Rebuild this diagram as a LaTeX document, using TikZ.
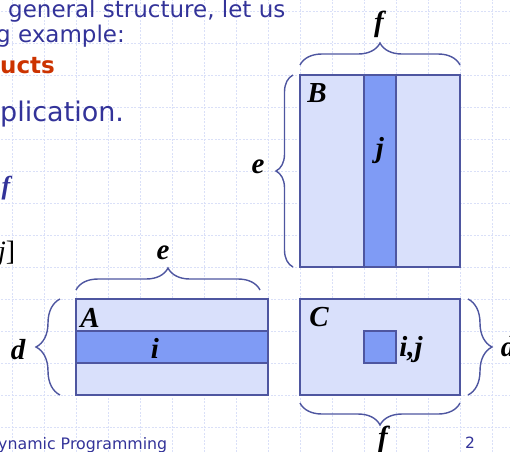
\documentclass[tikz,border=0pt]{standalone}
\usepackage{fontspec}
\setmainfont{Liberation Serif}
\newfontfamily\slidefont{DejaVu Sans}
\usetikzlibrary{decorations.pathreplacing}

\definecolor{slideblue}{RGB}{51,51,153}
\definecolor{slidered}{RGB}{204,51,0}
\definecolor{matfill}{RGB}{217,224,251}
\definecolor{matdark}{RGB}{127,155,245}
\definecolor{matline}{RGB}{78,86,160}
\definecolor{gridblue}{RGB}{218,224,248}

\tikzset{
  gridline/.style={draw=gridblue, line width=0.9pt, dash pattern=on 2pt off 1.5pt},
  matbox/.style={draw=matline, line width=1.4pt, fill=matfill},
  band/.style={draw=matline, line width=1.4pt, fill=matdark},
  curly/.style={draw=matline, line width=1.4pt, decorate,
    decoration={brace, amplitude=#1}},
  curly/.default=22pt,
  lbl/.style={inner sep=0pt, font=\fontsize{29}{29}\selectfont\bfseries\itshape},
  slidetext/.style={inner sep=0pt, anchor=base west, text=slideblue,
    font=\slidefont\fontsize{23}{23}\selectfont},
}

\begin{document}
\begin{tikzpicture}[x=1pt, y=1pt]
\useasboundingbox (0,0) rectangle (510,-451);
\clip (0,0) rectangle (510,-451);
% background grid
\draw[gridline, xshift=12pt, yshift=-11pt] (-32,32) grid[step=32] (512,-448);
% cut-off slide text
\node[slidetext] (line1) at (8,-17) {general structure, let us};
\node[slidetext] (line2) at (-4,-42) {g example:};
\node[slidetext, text=slidered, font=\slidefont\bfseries\fontsize{23}{23}\selectfont]
  (line3) at (0,-73) {ucts};
\node[slidetext, font=\slidefont\fontsize{27}{27}\selectfont] (line4) at (0,-121) {plication.};
\node[inner sep=0pt, text=slideblue, font=\fontsize{26}{26}\selectfont\bfseries\itshape]
  (fleft) at (6,-188) {f};
\node[inner sep=0pt, anchor=west, font=\fontsize{28}{28}\selectfont]
  (jleft) at (-2,-254) {\textit{j}]};
\node[slidetext, font=\slidefont\fontsize{15.8}{15.8}\selectfont] (footer) at (-2,-449)
  {ynamic Programming};
\node[slidetext, font=\slidefont\fontsize{15.5}{15.5}\selectfont] (pagenum) at (465,-448) {2};
% corners
\coordinate (A1) at (76,-299);
\coordinate (A2) at (268,-395);
\coordinate (B1) at (300,-75);
\coordinate (B2) at (460,-267);
\coordinate (C1) at (300,-299);
\coordinate (C2) at (460,-395);
% matrices
\draw[matbox] (A1) rectangle (A2);
\draw[band] (76,-331) rectangle (268,-363);
\draw[matbox] (B1) rectangle (B2);
\draw[band] (364,-75) rectangle (396,-267);
\draw[matbox] (C1) rectangle (C2);
\draw[band] (364,-331) rectangle (396,-363);
\node[lbl] (labA) at (90,-318) {A};
\node[lbl] (labB) at (317,-93) {B};
\node[lbl] (labC) at (319,-317) {C};
\node[lbl] (labi) at (155,-348) {i};
\node[lbl] (labj) at (380,-151) {j};
\node[lbl] (labij) at (411,-350) {i,j};
% braces
\draw[curly] (300,-65) -- (460,-65);
\node[lbl] (fB) at (379,-24) {f};
\draw[curly=17pt] (293,-267) -- (293,-75);
\node[lbl] (eB) at (258,-167) {e};
\draw[curly] (76,-290) -- (260,-290);
\node[lbl] (eA) at (163,-253) {e};
\draw[curly=24pt] (60,-395) -- (60,-299);
\node[lbl] (dA) at (18,-350) {d};
\draw[curly=24pt] (468,-299) -- (468,-395);
\node[lbl] (dC) at (508,-347) {d};
\draw[curly] (460,-403) -- (300,-403);
\node[lbl] (fC) at (383,-439) {f};
\end{tikzpicture}
\end{document}
